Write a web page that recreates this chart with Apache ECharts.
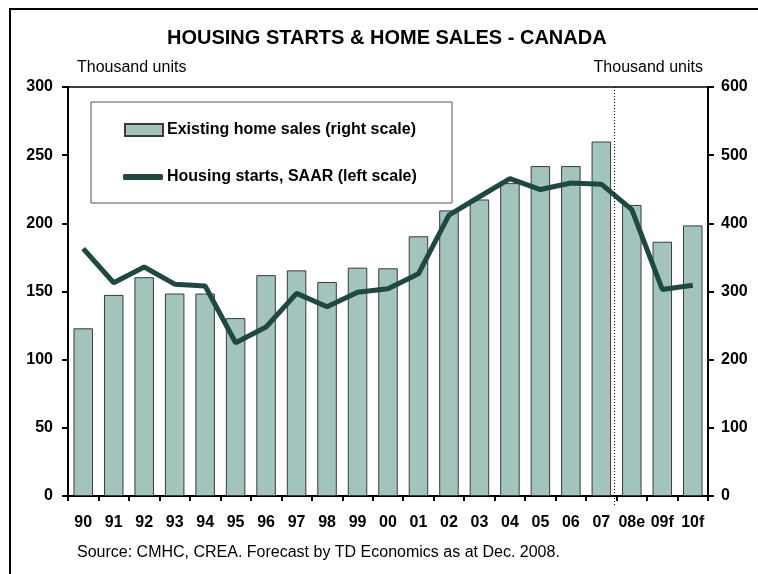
<!DOCTYPE html>
<html>
<head>
<meta charset="utf-8">
<script src="https://cdn.jsdelivr.net/npm/echarts@6/dist/echarts.min.js"></script>
<style>
  html, body { margin: 0; padding: 0; background: #fff; }
  #chart { width: 758px; height: 574px; }
</style>
</head>
<body>
<div id="chart"></div>
<script>
// 数据
const years = ['90', '91', '92', '93', '94', '95', '96', '97', '98', '99', '00',
  '01', '02', '03', '04', '05', '06', '07', '08e', '09f', '10f'];
// existing home sales, thousand units (right scale)
const homeSales = [246, 295, 321, 297, 297, 261, 324, 331, 314, 335, 334,
  381, 419, 435, 459, 484, 484, 520, 427, 373, 397];
// housing starts SAAR, thousand units (left scale)
const housingStarts = [181.5, 156.4, 168, 155.4, 154, 112.4, 124, 148.6, 138.8, 149.5, 152,
  163, 206, 219.5, 232.8, 224.8, 229.6, 228.7, 210, 151.5, 154.6];
const leftTicks = [0, 300, 50];
const rightTicks = [0, 600, 100];
const forecastSplit = 17.9;

const barName = 'Existing home sales (right scale)';
const lineName = 'Housing starts, SAAR (left scale)';
const font = 'Liberation Sans, Arial, sans-serif';

const chart = echarts.init(document.getElementById('chart'));

const option = {
  animation: false,
  textStyle: { fontFamily: font },
  title: {
    text: 'HOUSING STARTS & HOME SALES - CANADA',
    left: 167,
    top: 28,
    padding: 0,
    textStyle: { fontSize: 20, fontWeight: 'bold', color: '#000', fontFamily: font }
  },
  grid: {
    left: 68, right: 50, top: 87, bottom: 78,
    show: true, borderColor: '#000', borderWidth: 1.5, backgroundColor: 'transparent'
  },
  legend: [{
    data: [{ name: barName, icon: 'rect' }],
    left: 119, top: 117,
    itemWidth: 38, itemHeight: 12,
    textStyle: { fontSize: 16, fontWeight: 'bold', color: '#000', fontFamily: font, padding: [0, 0, 0, -1] },
    selectedMode: false
  }, {
    data: [{ name: lineName, icon: 'roundRect' }],
    left: 118, top: 164,
    itemWidth: 40, itemHeight: 6,
    textStyle: { fontSize: 16, fontWeight: 'bold', color: '#000', fontFamily: font, padding: [0, 0, 0, -1] },
    selectedMode: false
  }],
  xAxis: [{
    type: 'category',
    data: years,
    axisLine: { lineStyle: { color: '#000', width: 2 } },
    axisTick: { show: true, length: 5, lineStyle: { color: '#000', width: 2 } },
    axisLabel: { fontSize: 16, fontWeight: 'bold', color: '#000', margin: 19, interval: 0, fontFamily: font }
  }, {
    type: 'value', min: 0, max: 21, show: false
  }],
  yAxis: [{
    type: 'value',
    min: leftTicks[0], max: leftTicks[1], interval: leftTicks[2],
    position: 'left',
    axisLine: { show: true, lineStyle: { color: '#000', width: 2 } },
    axisTick: { show: true, inside: false, length: 6, lineStyle: { color: '#000', width: 2 } },
    axisLabel: { fontSize: 16, fontWeight: 'bold', color: '#000', margin: 15, fontFamily: font },
    splitLine: { show: false }
  }, {
    type: 'value',
    min: rightTicks[0], max: rightTicks[1], interval: rightTicks[2],
    position: 'right',
    axisLine: { show: true, lineStyle: { color: '#000', width: 2 } },
    axisTick: { show: true, inside: false, length: 6, lineStyle: { color: '#000', width: 2 } },
    axisLabel: { fontSize: 16, fontWeight: 'bold', color: '#000', margin: 13, fontFamily: font },
    splitLine: { show: false }
  }],
  series: [{
    name: barName,
    type: 'bar',
    yAxisIndex: 1,
    data: homeSales,
    barCategoryGap: '36%',
    itemStyle: { color: '#a3c4bd', borderColor: '#3a3a3a', borderWidth: 1 }
  }, {
    name: lineName,
    type: 'line',
    yAxisIndex: 0,
    data: housingStarts,
    symbol: 'none',
    lineStyle: { color: '#1f4842', width: 5 },
    itemStyle: { color: '#1f4842' },
    z: 5
  }],
  graphic: [
    // 外框
    { id: 'frame', type: 'rect', shape: { x: 10, y: 9, width: 760, height: 580 }, style: { fill: 'none', stroke: '#000', lineWidth: 2 }, silent: true },
    // legend box
    { id: 'legendBox', type: 'rect', shape: { x: 91, y: 102, width: 361, height: 101 }, style: { fill: '#fff', stroke: '#555', lineWidth: 1 }, z: 1, silent: true },
    { id: 'unitL', type: 'text', left: 77, top: 60, style: { text: 'Thousand units', font: '16px ' + font, fill: '#000' } },
    { id: 'unitR', type: 'text', right: 55, top: 60, style: { text: 'Thousand units', font: '16px ' + font, fill: '#000' } },
    { id: 'source', type: 'text', left: 77, top: 545, style: { text: 'Source: CMHC, CREA. Forecast by TD Economics as at Dec. 2008.', font: '16px ' + font, fill: '#000' } }
  ]
};

chart.setOption(option);

// 预测分隔虚线（延伸到坐标轴下方）
const sx = Math.round(chart.convertToPixel({ xAxisIndex: 1 }, forecastSplit)) + 0.5;
const yTop = chart.convertToPixel({ yAxisIndex: 0 }, leftTicks[1]);
const yBottom = chart.convertToPixel({ yAxisIndex: 0 }, leftTicks[0]);
chart.setOption({
  graphic: [{
    id: 'split',
    type: 'line',
    shape: { x1: sx, y1: yTop, x2: sx, y2: yBottom + 11 },
    style: { stroke: '#000', lineWidth: 1, lineDash: [1, 2] },
    z: 10,
    silent: true
  }]
});
</script>
</body>
</html>
